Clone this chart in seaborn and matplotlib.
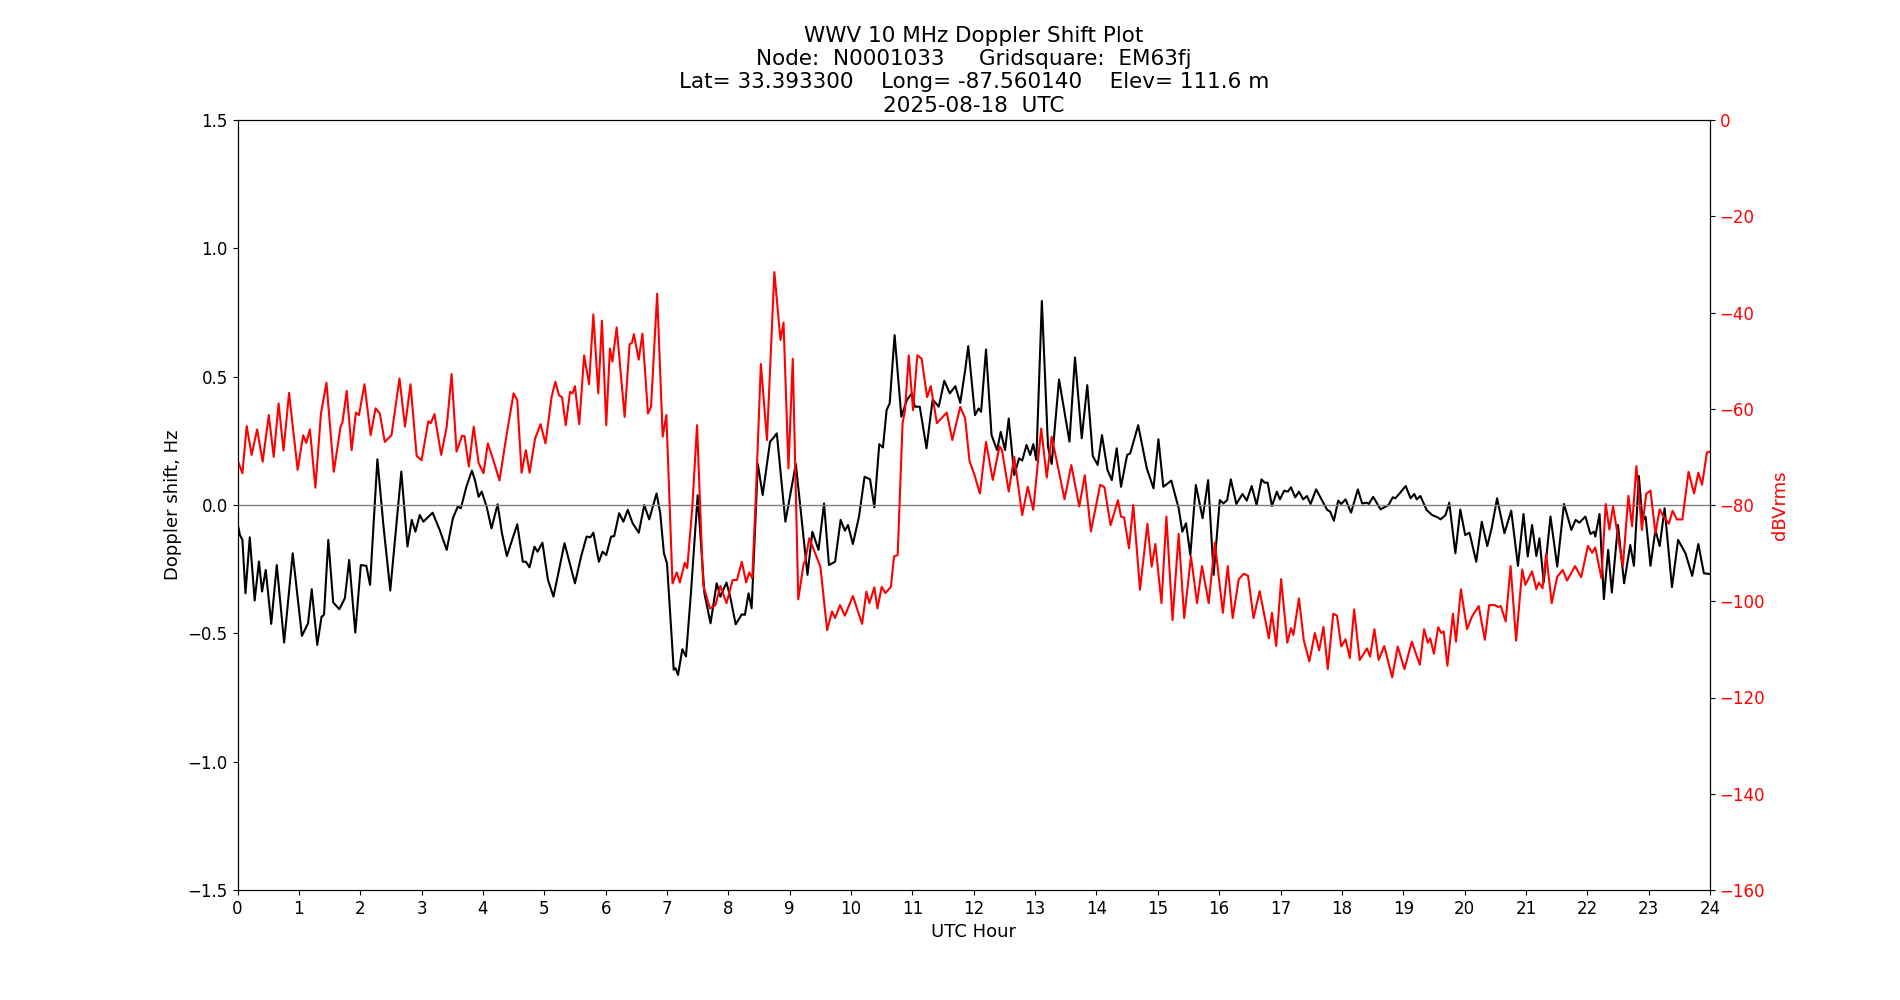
#! /usr/bin/env python

import numpy as np
import pandas as pd
import seaborn as sns
import matplotlib
matplotlib.use('Agg')
import matplotlib.pyplot as plt

# Doppler shift trace (black)
doppler_hour = [
    0.00, 0.04, 0.08, 0.13, 0.20, 0.28, 0.35, 0.40, 0.46, 0.55, 0.64, 0.76, 0.90,
    1.05, 1.15, 1.21, 1.30, 1.37, 1.41, 1.48, 1.56, 1.66, 1.75, 1.82, 1.92,
    2.01, 2.10, 2.16, 2.28, 2.38, 2.49, 2.67, 2.77, 2.84, 2.90, 2.97,
    3.03, 3.18, 3.30, 3.41, 3.51, 3.59, 3.64, 3.73, 3.82, 3.87, 3.93, 3.98,
    4.06, 4.14, 4.24, 4.31, 4.39, 4.56, 4.65, 4.70, 4.76, 4.84, 4.89, 4.97,
    5.06, 5.15, 5.33, 5.50, 5.60, 5.69, 5.75, 5.80, 5.89, 5.95,
    6.01, 6.09, 6.14, 6.22, 6.29, 6.36, 6.44, 6.54, 6.63, 6.71, 6.83, 6.89, 6.95,
    7.00, 7.11, 7.14, 7.18, 7.25, 7.31, 7.39, 7.50, 7.61, 7.71, 7.81, 7.87, 7.97,
    8.03, 8.12, 8.22, 8.27, 8.33, 8.38, 8.44, 8.48, 8.56, 8.68, 8.73, 8.79, 8.93,
    9.10, 9.29, 9.37, 9.47, 9.56, 9.64, 9.74, 9.83, 9.90, 9.95,
    10.03, 10.13, 10.22, 10.31, 10.38, 10.46, 10.52, 10.58, 10.63, 10.71, 10.82, 10.91, 10.99,
    11.04, 11.12, 11.23, 11.33, 11.43, 11.52, 11.61, 11.70, 11.78, 11.86, 11.91,
    12.02, 12.08, 12.12, 12.20, 12.29, 12.38, 12.44, 12.51, 12.57, 12.66, 12.74, 12.79, 12.86, 12.92, 12.97,
    13.02, 13.11, 13.21, 13.27, 13.39, 13.56, 13.65, 13.76, 13.85, 13.94,
    14.02, 14.09, 14.18, 14.25, 14.33, 14.40, 14.50, 14.55, 14.68, 14.82, 14.93,
    15.01, 15.09, 15.22, 15.34, 15.40, 15.46, 15.53, 15.62, 15.73, 15.82, 15.91,
    16.01, 16.07, 16.13, 16.19, 16.28, 16.38, 16.45, 16.53, 16.61, 16.69, 16.74, 16.79, 16.86, 16.94, 16.99,
    17.06, 17.12, 17.17, 17.24, 17.30, 17.37, 17.43, 17.49, 17.58, 17.68, 17.76, 17.81, 17.87, 17.94, 17.99,
    18.06, 18.15, 18.26, 18.33, 18.41, 18.44, 18.51, 18.63, 18.76, 18.83, 18.87, 18.94,
    19.04, 19.12, 19.18, 19.22, 19.28, 19.38, 19.47, 19.56, 19.61, 19.69, 19.75, 19.85, 19.93,
    20.01, 20.08, 20.19, 20.28, 20.37, 20.44, 20.53, 20.65, 20.76, 20.87, 20.96,
    21.03, 21.10, 21.17, 21.22, 21.29, 21.40, 21.51, 21.62, 21.74, 21.81, 21.87, 21.97,
    22.05, 22.11, 22.13, 22.20, 22.27, 22.34, 22.40, 22.50, 22.60, 22.70, 22.76, 22.84, 22.90, 22.95,
    23.03, 23.11, 23.18, 23.26, 23.38, 23.48, 23.60, 23.71, 23.81, 23.90, 24.00,
]
doppler_hz = [
    -0.071, -0.117, -0.136, -0.344, -0.126, -0.372, -0.220, -0.337, -0.253, -0.463, -0.234, -0.536, -0.188,
    -0.510, -0.461, -0.328, -0.545, -0.435, -0.428, -0.136, -0.380, -0.406, -0.363, -0.214, -0.497,
    -0.234, -0.237, -0.311, 0.178, -0.084, -0.333, 0.130, -0.162, -0.058, -0.104, -0.039,
    -0.065, -0.030, -0.100, -0.175, -0.052, -0.006, -0.013, 0.071, 0.134, 0.097, 0.032, 0.052,
    -0.006, -0.091, 0.003, -0.110, -0.199, -0.075, -0.221, -0.221, -0.243, -0.162, -0.182, -0.147,
    -0.292, -0.357, -0.149, -0.305, -0.201, -0.123, -0.126, -0.108, -0.221, -0.182,
    -0.195, -0.123, -0.121, -0.032, -0.065, -0.019, -0.071, -0.108, 0.000, -0.056, 0.045, -0.032, -0.188,
    -0.227, -0.642, -0.636, -0.662, -0.562, -0.590, -0.344, 0.038, -0.344, -0.461, -0.305, -0.357, -0.302,
    -0.357, -0.465, -0.426, -0.428, -0.344, -0.402, -0.071, 0.160, 0.039, 0.247, 0.260, 0.279, -0.065,
    0.160, -0.272, -0.104, -0.175, 0.006, -0.234, -0.221, -0.058, -0.100, -0.078,
    -0.152, -0.045, 0.110, 0.100, -0.009, 0.237, 0.224, 0.370, 0.396, 0.662, 0.344, 0.409, 0.435,
    0.383, 0.383, 0.221, 0.411, 0.383, 0.484, 0.435, 0.463, 0.398, 0.525, 0.619,
    0.350, 0.376, 0.363, 0.606, 0.272, 0.214, 0.285, 0.214, 0.337, 0.117, 0.182, 0.173, 0.234, 0.195, 0.237,
    0.175, 0.795, 0.227, 0.160, 0.489, 0.247, 0.575, 0.260, 0.467, 0.191,
    0.156, 0.272, 0.136, 0.097, 0.221, 0.071, 0.195, 0.201, 0.311, 0.143, 0.065,
    0.256, 0.071, 0.095, -0.013, -0.104, -0.071, -0.195, 0.078, -0.052, 0.097, -0.272,
    0.019, 0.006, 0.019, 0.100, 0.004, 0.043, 0.017, 0.074, 0.000, 0.100, 0.087, 0.087, -0.004, 0.052, 0.022,
    0.056, 0.052, 0.069, 0.030, 0.052, 0.022, 0.035, 0.004, 0.061, 0.017, -0.019, -0.026, -0.061, 0.017, 0.004,
    0.022, -0.030, 0.061, 0.006, 0.009, 0.004, 0.032, -0.017, 0.000, 0.030, 0.026, 0.045,
    0.074, 0.026, 0.043, 0.022, 0.035, -0.019, -0.039, -0.048, -0.056, -0.039, 0.009, -0.188, -0.018,
    -0.117, -0.108, -0.221, -0.065, -0.160, -0.091, 0.026, -0.110, -0.022, -0.237, -0.035,
    -0.201, -0.078, -0.199, -0.130, -0.302, -0.045, -0.240, 0.004, -0.097, -0.058, -0.069, -0.045,
    -0.113, -0.104, -0.123, -0.035, -0.367, -0.175, -0.341, -0.078, -0.305, -0.156, -0.237, 0.113, -0.061, -0.045,
    -0.237, -0.097, -0.160, -0.013, -0.320, -0.136, -0.188, -0.276, -0.152, -0.266, -0.269,
]

# Received signal level trace (red), right axis
power_hour = [
    0.01, 0.08, 0.15, 0.23, 0.32, 0.41, 0.51, 0.59, 0.67, 0.75, 0.84, 0.98,
    1.07, 1.12, 1.18, 1.27, 1.36, 1.45, 1.57, 1.68, 1.71, 1.78, 1.86, 1.93, 1.98,
    2.07, 2.17, 2.25, 2.32, 2.40, 2.51, 2.64, 2.73, 2.82, 2.92,
    3.00, 3.11, 3.15, 3.21, 3.32, 3.41, 3.49, 3.57, 3.66, 3.70, 3.77, 3.85, 3.93,
    4.01, 4.08, 4.17, 4.27, 4.39, 4.50, 4.56, 4.63, 4.70, 4.76, 4.85, 4.94,
    5.02, 5.12, 5.18, 5.24, 5.29, 5.35, 5.42, 5.46, 5.50, 5.57, 5.65, 5.73, 5.80, 5.88, 5.94,
    6.01, 6.07, 6.11, 6.18, 6.31, 6.39, 6.43, 6.46, 6.54, 6.60, 6.69, 6.74, 6.84, 6.93, 6.99,
    7.09, 7.16, 7.21, 7.29, 7.33, 7.41, 7.49, 7.59, 7.70, 7.79, 7.87, 7.97,
    8.07, 8.14, 8.22, 8.29, 8.34, 8.39, 8.45, 8.53, 8.63, 8.75, 8.85, 8.90, 8.98,
    9.05, 9.14, 9.23, 9.25, 9.32, 9.50, 9.61, 9.69, 9.74, 9.82, 9.90,
    10.03, 10.18, 10.25, 10.30, 10.38, 10.43, 10.50, 10.56, 10.65, 10.70, 10.76, 10.84, 10.88, 10.94,
    11.01, 11.08, 11.15, 11.24, 11.30, 11.40, 11.56, 11.65, 11.78, 11.86, 11.93,
    12.02, 12.10, 12.20, 12.31, 12.42, 12.46, 12.57, 12.66, 12.79, 12.88, 12.97,
    13.10, 13.19, 13.27, 13.35, 13.48, 13.59, 13.72, 13.81, 13.91,
    14.06, 14.13, 14.23, 14.35, 14.40, 14.45, 14.53, 14.60, 14.71, 14.83, 14.90, 14.96,
    15.06, 15.14, 15.24, 15.34, 15.43, 15.54, 15.64, 15.72, 15.83, 15.93,
    16.06, 16.14, 16.22, 16.32, 16.40, 16.47, 16.56, 16.66, 16.81, 16.86, 16.93,
    17.01, 17.11, 17.17, 17.21, 17.30, 17.38, 17.47, 17.56, 17.63, 17.70, 17.77, 17.86, 17.92, 17.99,
    18.06, 18.13, 18.20, 18.29, 18.41, 18.46, 18.53, 18.60, 18.69, 18.82, 18.91,
    19.02, 19.14, 19.27, 19.34, 19.40, 19.44, 19.50, 19.57, 19.62, 19.66, 19.72, 19.81, 19.86, 19.94,
    20.04, 20.12, 20.23, 20.33, 20.40, 20.49, 20.55, 20.59, 20.67, 20.75, 20.84, 20.94, 20.99,
    21.10, 21.17, 21.21, 21.27, 21.33, 21.42, 21.51, 21.60, 21.67, 21.80, 21.90,
    22.01, 22.08, 22.13, 22.23, 22.30, 22.36, 22.42, 22.50, 22.58, 22.67, 22.73, 22.80, 22.89, 22.96,
    23.03, 23.11, 23.18, 23.23, 23.33, 23.39, 23.46, 23.55, 23.65, 23.74, 23.81, 23.87, 23.95, 24.00,
]
power_db = [
    -71.0, -73.4, -63.6, -69.6, -64.3, -71.0, -61.3, -70.0, -58.9, -68.7, -56.7, -72.7,
    -65.5, -67.1, -64.3, -76.4, -61.0, -54.6, -73.1, -63.7, -62.9, -56.3, -68.6, -60.8, -61.3,
    -54.9, -65.5, -59.9, -61.0, -66.9, -65.5, -53.7, -63.7, -54.9, -69.8,
    -70.7, -62.6, -63.0, -61.1, -69.6, -63.7, -52.8, -68.9, -65.6, -65.7, -72.0, -63.7, -71.3,
    -73.4, -67.2, -70.7, -74.9, -65.1, -56.8, -58.2, -73.3, -68.6, -73.3, -66.2, -63.2,
    -67.2, -57.5, -54.4, -57.2, -57.6, -63.4, -56.5, -56.8, -55.3, -63.2, -48.9, -54.9, -40.4, -56.8, -41.7,
    -63.4, -47.5, -50.2, -43.1, -61.7, -46.6, -46.3, -44.5, -49.8, -44.4, -61.0, -59.6, -36.1, -65.8, -61.3,
    -96.3, -94.0, -96.1, -92.0, -93.1, -81.0, -63.4, -96.6, -101.5, -100.8, -96.8, -100.4,
    -95.6, -95.6, -91.8, -96.1, -94.0, -95.2, -77.6, -50.7, -66.5, -31.6, -45.7, -42.1, -72.4,
    -49.6, -99.6, -92.0, -91.8, -86.9, -92.8, -106.0, -102.1, -103.5, -100.8, -103.0,
    -98.9, -104.7, -98.0, -100.4, -97.1, -101.5, -97.0, -98.3, -97.0, -90.7, -90.4, -63.0, -60.3, -48.9,
    -60.3, -48.9, -49.6, -57.6, -55.3, -63.0, -60.8, -66.5, -59.6, -62.0, -70.8,
    -74.1, -77.6, -66.9, -74.8, -67.8, -68.6, -77.2, -70.0, -82.1, -76.2, -81.0,
    -64.1, -74.3, -65.8, -70.7, -78.8, -71.7, -80.3, -73.8, -85.5,
    -75.8, -76.3, -84.2, -79.0, -82.4, -82.6, -89.0, -80.0, -97.6, -83.9, -92.8, -88.1,
    -100.4, -82.4, -103.9, -86.0, -103.5, -90.7, -100.4, -92.7, -100.4, -87.8,
    -102.4, -92.7, -103.5, -95.4, -94.3, -94.7, -103.5, -97.9, -107.7, -102.4, -109.3,
    -95.4, -108.6, -105.6, -107.0, -99.4, -108.2, -112.5, -106.6, -110.2, -105.3, -114.1, -102.6, -103.0, -109.4,
    -107.9, -111.8, -101.7, -112.2, -109.8, -111.5, -105.8, -112.2, -109.3, -115.8, -109.4,
    -114.1, -108.4, -113.2, -105.8, -108.6, -107.7, -110.9, -105.4, -106.6, -106.3, -113.4, -102.6, -108.4, -97.5,
    -105.8, -103.2, -101.0, -108.0, -100.8, -100.8, -101.2, -101.0, -104.2, -92.7, -108.2, -93.4, -96.6,
    -93.8, -97.5, -96.1, -97.3, -90.2, -100.4, -94.9, -93.5, -95.7, -92.7, -95.0,
    -88.5, -89.9, -88.8, -95.2, -79.8, -85.1, -80.3, -86.6, -92.7, -78.1, -84.4, -71.9, -85.2, -77.7,
    -77.0, -85.9, -80.9, -82.1, -83.9, -81.2, -83.0, -83.0, -73.1, -77.6, -73.3, -75.8, -69.1, -68.9,
]

title = ('WWV 10 MHz Doppler Shift Plot\n'
         'Node:  N0001033     Gridsquare:  EM63fj\n'
         'Lat= 33.393300    Long= -87.560140    Elev= 111.6 m\n'
         '2025-08-18  UTC')

doppler = pd.DataFrame({'hour': doppler_hour, 'shift': doppler_hz})
power = pd.DataFrame({'hour': power_hour, 'db': power_db})

fig, ax = plt.subplots(figsize=(19, 10), dpi=100)

sns.lineplot(data=doppler, x='hour', y='shift', color='black', linewidth=1.5,
             sort=False, estimator=None, ax=ax)
ax.axhline(0, color='grey', linewidth=1)
ax.set_xlim(0, 24)
ax.set_ylim(-1.5, 1.5)
ax.set_xticks(range(0, 25))
ax.set_xlabel('UTC Hour', fontsize=13)
ax.set_ylabel('Doppler shift, Hz', fontsize=13)
ax.tick_params(labelsize=12)
ax.set_title(title, fontsize=15.5)

ax2 = ax.twinx()
sns.lineplot(data=power, x='hour', y='db', color='red', linewidth=1.5,
             sort=False, estimator=None, ax=ax2)
ax2.set_ylim(-160, 0)
ax2.set_ylabel('dBVrms', color='red', fontsize=13)
ax2.tick_params(axis='y', labelcolor='red', labelsize=12)

plt.savefig('out.png')
